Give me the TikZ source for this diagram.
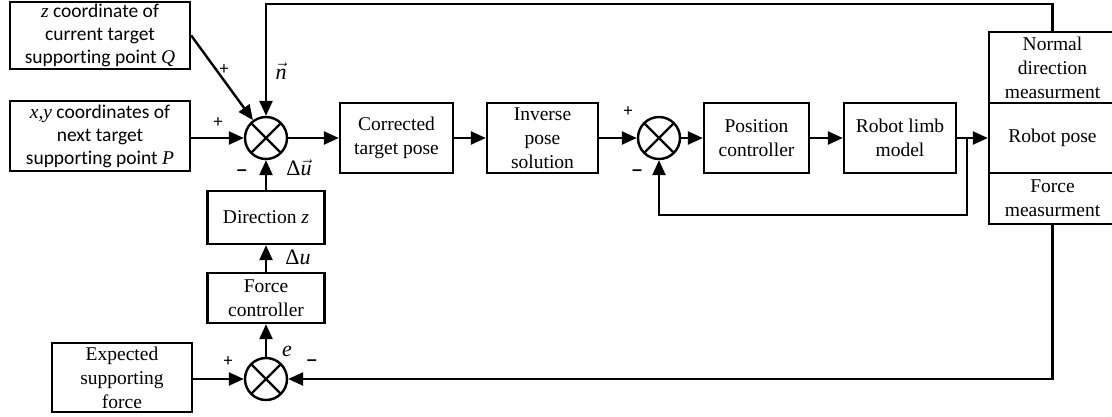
\documentclass[tikz,border=0pt]{standalone}
\usepackage{fontspec}
\setmainfont{Liberation Serif}
\newfontfamily\carlfont[Ligatures=NoCommon]{Carlito}
\newfontfamily\lsansfont{Liberation Sans}
\usetikzlibrary{arrows.meta}
\newcommand\vecit[1]{$\vec{\mbox{\itshape #1}}$}
\newcommand\tit[1]{{\rmfamily\itshape #1}}
\begin{document}
\begin{tikzpicture}[x=1pt,y=-1pt,
  blk/.style={draw,line width=2.4pt,align=center,inner sep=0pt,font=\fontsize{19.5}{24}\selectfont},
  cblk/.style={blk,font=\carlfont\fontsize{19.5}{23}\selectfont},
  sumc/.style={draw,circle,line width=2.4pt,minimum size=42pt,inner sep=0pt,
    path picture={\draw[line width=2.4pt] (path picture bounding box.north west)--(path picture bounding box.south east)
      (path picture bounding box.north east)--(path picture bounding box.south west);}},
  arr/.style={line width=2.4pt,-{Triangle[length=15pt,width=13pt]}},
  plus/.style={font=\carlfont\fontsize{18}{18}\selectfont,inner sep=0pt},
  minus/.style={font=\lsansfont\bfseries\fontsize{18}{18}\selectfont,inner sep=0pt},
  lab/.style={font=\fontsize{22}{22}\selectfont,inner sep=0pt}
]
\useasboundingbox (0,0) rectangle (1112,416);

% blocks
\node[cblk,minimum width=180pt,minimum height=67pt] (qbox) at (100,35.5)
  {\tit{z} coordinate of\\current target\\supporting point \tit{Q}};
\node[cblk,minimum width=180pt,minimum height=70pt] (pbox) at (100,136)
  {\tit{x,y} coordinates of\\next target\\supporting point \tit{P}};
\node[sumc] (sum1) at (266,138) {};
\node[blk,minimum width=113pt,minimum height=70pt] (corr) at (396.5,138) {Corrected\\target pose};
\node[blk,minimum width=111pt,minimum height=70pt] (inv) at (542.5,138) {Inverse\\pose\\solution};
\node[sumc] (sum2) at (659,138) {};
\node[blk,minimum width=105pt,minimum height=70pt] (pos) at (756.5,138) {Position\\controller};
\node[blk,minimum width=112pt,minimum height=70pt] (limb) at (900,138) {Robot limb\\model};
\node[blk,minimum width=127pt,minimum height=71pt] (rtop) at (1052.5,67.5) {Normal\\direction\\measurment};
\node[blk,minimum width=127pt,minimum height=70pt] (rmid) at (1052.5,138) {Robot pose};
\node[blk,minimum width=127pt,minimum height=51pt] (rbot) at (1052.5,198.5) {Force\\measurment};
\node[blk,minimum width=117pt,minimum height=53pt] (dirz) at (266,217.5) {Direction \textit{z}};
\node[blk,minimum width=117pt,minimum height=50pt] (forc) at (266,298) {Force\\controller};
\node[sumc] (sum3) at (266,379) {};
\node[blk,minimum width=140pt,minimum height=69pt] (expf) at (122,377.5) {Expected\\supporting\\force};

\coordinate (br) at (967,138);
\coordinate (brd) at (967,215);

% connectors
\draw[arr] (qbox.east) -- (sum1);
\draw[arr] (pbox.east |- sum1) -- (sum1.west);
\draw[arr] (sum1.east) -- (corr.west);
\draw[arr] (corr.east) -- (inv.west);
\draw[arr] (inv.east) -- (sum2.west);
\draw[arr] (sum2.east) -- (pos.west);
\draw[arr] (pos.east) -- (limb.west);
\draw[arr] (limb.east) -- (rmid.west);
\draw[arr] (br) -- (brd) -| (sum2.south);
\draw[arr] (rtop.north) -- ++(0,-27) -| (sum1.north);
\draw[arr] (rbot.south) |- (sum3.east);
\draw[arr] (expf.east |- sum3) -- (sum3.west);
\draw[arr] (sum3.north) -- (forc.south);
\draw[arr] (forc.north) -- (dirz.south);
\draw[arr] (dirz.north) -- (sum1.south);

% labels
\node[plus] (p1) at (224,70) {+};
\node[plus] (p2) at (218,123) {+};
\node[lab] (nv) at (281,71) {\vecit{n}};
\node[minus] (m1) at (242,173) {–};
\node[lab] (duv) at (299,168) {Δ\vecit{u}};
\node[plus] (p3) at (628,112) {+};
\node[minus] (m2) at (637,173) {–};
\node[lab] (du) at (298,257) {Δ\textit{u}};
\node[lab] (e) at (287,351) {\textit{e}};
\node[plus] (p4) at (228,362) {+};
\node[minus] (m3) at (312,363) {–};
\end{tikzpicture}
\end{document}
